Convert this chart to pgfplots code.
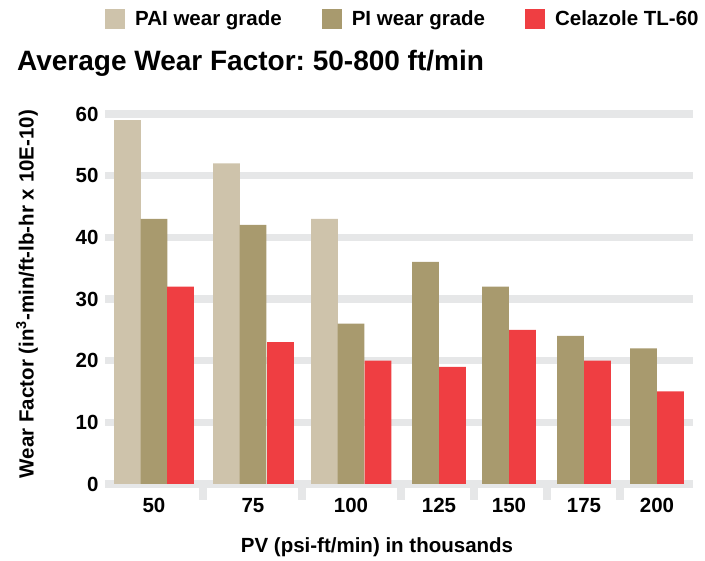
\documentclass[border=0pt]{standalone}
\usepackage{fontspec}
\setmainfont{Liberation Sans}
\usepackage{pgfplots}
\pgfplotsset{compat=1.18}
\definecolor{pai}{HTML}{CEC3AB}
\definecolor{pigr}{HTML}{A89A6E}
\definecolor{cel}{HTML}{EF3E42}
\definecolor{gridg}{HTML}{E6E7E8}
\pgfplotsset{sqlegend/.style={legend image code/.code={\fill[##1] (0pt,-10pt) rectangle (20pt,10pt);}}}
\frenchspacing
\begin{document}
\begin{tikzpicture}
\path[use as bounding box] (0,0) rectangle (705pt,561pt);
\begin{axis}[
  at={(105pt,77pt)}, anchor=south west,
  scale only axis, width=588pt, height=370pt,
  xmin=105, xmax=693, ymin=0, ymax=60,
  clip=false,
  axis line style={draw=none},
  ytick={0,10,...,60},
  xtick={154,253,351,439,509,584,657},
  xticklabels={50,75,100,125,150,175,200},
  minor xtick={203,302,401,474,547,620},
  ymajorgrids,
  major grid style={line width=7.5pt, color=gridg},
  major tick length=0pt,
  minor tick length=16pt,
  tick pos=left,
  tick align=outside,
  minor tick style={line width=8pt, color=gridg},
  ticklabel style={font=\fontsize{20.5}{24}\selectfont\bfseries},
  /pgf/number format/assume math mode=true,
  yticklabel style={xshift=-3pt},
  xticklabel style={yshift=-11pt},
  title={Average Wear Factor: 50-800 ft/min},
  title style={at={(axis description cs:-0.1497,1.1)}, anchor=base west, inner sep=0pt, font=\fontsize{28}{32}\selectfont\bfseries},
  xlabel={PV (psi-ft/min) in thousands},
  xlabel style={at={(axis description cs:0.4626,-0.1865)}, anchor=base, inner sep=0pt, font=\fontsize{20.5}{24}\selectfont\bfseries},
  ylabel={Wear Factor (in\textsuperscript{3}-min/ft-lb-hr x 10E-10)},
  ylabel style={at={(axis description cs:-0.1327,0.5135)}, anchor=center, inner sep=0pt, font=\fontsize{20.5}{24}\selectfont\bfseries},
  legend columns=3,
  legend style={draw=none, fill=none, at={(axis description cs:0,1.258)}, anchor=west, inner sep=0pt,
    font=\fontsize{20.5}{24}\selectfont\bfseries,
    /tikz/every odd column/.append style={column sep=8pt},
    /tikz/every even column/.append style={column sep=38pt}},
]
\addplot[ybar, bar width=26.6pt, bar shift=0pt, fill=pai, draw=none, sqlegend]
  coordinates {(127.5,59) (226.5,52) (324.5,43)};
\addlegendentry{PAI wear grade}
\addplot[ybar, bar width=26.6pt, bar shift=0pt, fill=pigr, draw=none, sqlegend]
  coordinates {(154,43) (253,42) (351,26) (425.5,36) (495.5,32) (570.5,24) (643.5,22)};
\addlegendentry{PI wear grade}
\addplot[ybar, bar width=26.6pt, bar shift=0pt, fill=cel, draw=none, sqlegend]
  coordinates {(180.5,32) (280.5,23) (378,20) (452.5,19) (522.5,25) (597.5,20) (670.5,15)};
\addlegendentry{Celazole TL-60}
\end{axis}
\end{tikzpicture}
\end{document}
